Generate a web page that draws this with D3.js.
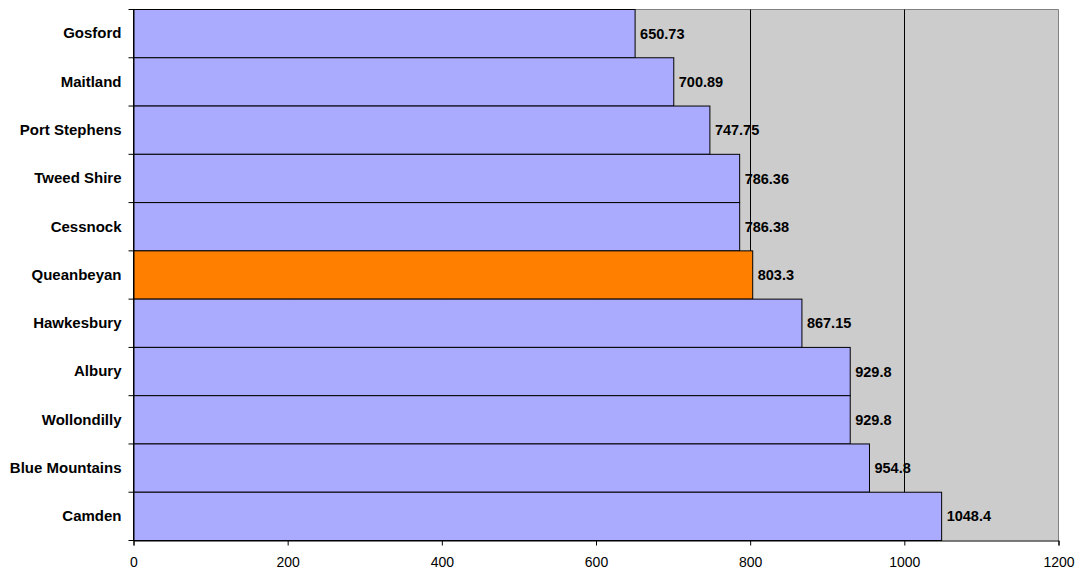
<!DOCTYPE html>
<html><head><meta charset="utf-8">
<script src="https://cdn.jsdelivr.net/npm/d3@7/dist/d3.min.js"></script>
<style>body{margin:0;background:#fff;} svg{display:block;font-family:"Liberation Sans",Arial,sans-serif;}</style>
</head><body>
<svg id="c" width="1080" height="569"></svg>
<script>
const categories = ["Gosford","Maitland","Port Stephens","Tweed Shire","Cessnock","Queanbeyan","Hawkesbury","Albury","Wollondilly","Blue Mountains","Camden"];
const values = [650.73,700.89,747.75,786.36,786.38,803.3,867.15,929.8,929.8,954.8,1048.4];
const labels = ["650.73","700.89","747.75","786.36","786.38","803.3","867.15","929.8","929.8","954.8","1048.4"];
const highlight = "Queanbeyan";
const xTicks = [0,200,400,600,800,1000,1200];

const svg = d3.select("#c");
const L = 133.5, R = 1058.5, T = 9.5, B = 540.5;
const x = d3.scaleLinear().domain([0,1200]).range([L,R]);
const y = d3.scaleBand().domain(categories).range([T,B]).padding(0);

svg.append("rect").attr("x",L).attr("y",T).attr("width",R-L).attr("height",B-T).attr("fill","#cccccc");
svg.append("path").attr("d",`M${L},${T}H${R}V${B}`).attr("fill","none").attr("stroke","#808080").attr("stroke-width",1);

// value labels
svg.append("g").selectAll("text").data(categories).join("text")
  .attr("x",(d,i)=>x(values[i])+5)
  .attr("y",d=>y(d)+y.bandwidth()/2)
  .attr("dy","0.35em")
  .attr("font-size",14.5).attr("font-weight","bold").attr("fill","#000")
  .text((d,i)=>labels[i]);

// gridlines
svg.append("g").selectAll("line").data(xTicks.slice(1,-1)).join("line")
  .attr("x1",d=>Math.round(x(d))+0.5).attr("x2",d=>Math.round(x(d))+0.5)
  .attr("y1",T).attr("y2",B).attr("stroke","#000").attr("stroke-width",1);

// bars
svg.append("g").selectAll("rect").data(categories).join("rect")
  .attr("x",x(0))
  .attr("y",d=>y(d))
  .attr("width",(d,i)=>x(values[i])-x(0))
  .attr("height",y.bandwidth())
  .attr("fill",d=>d===highlight?"#ff8000":"#aaaaff")
  .attr("stroke","#000").attr("stroke-width",1);

// x axis
const xa = svg.append("g").attr("transform",`translate(0,${B})`)
  .call(d3.axisBottom(x).tickValues(xTicks).tickSize(5).tickPadding(12).tickFormat(d3.format("d")));
xa.select(".domain").attr("stroke","#000");
xa.selectAll("line").attr("stroke","#000");
xa.selectAll("text").attr("font-size",14).attr("fill","#000").attr("font-family","'Liberation Sans',Arial,sans-serif");

// y axis
const ya = svg.append("g").attr("transform",`translate(${L},0)`)
  .call(d3.axisLeft(y).tickSize(0).tickPadding(12));
ya.select(".domain").attr("stroke","#000");
ya.selectAll("text").attr("font-size",15).attr("font-weight","bold").attr("fill","#000").attr("font-family","'Liberation Sans',Arial,sans-serif");
const bounds = categories.map(c=>y(c)).concat([B]);
ya.append("g").selectAll("line").data(bounds).join("line")
  .attr("x1",-5).attr("x2",0).attr("y1",d=>d).attr("y2",d=>d).attr("stroke","#000");
</script>
</body></html>
